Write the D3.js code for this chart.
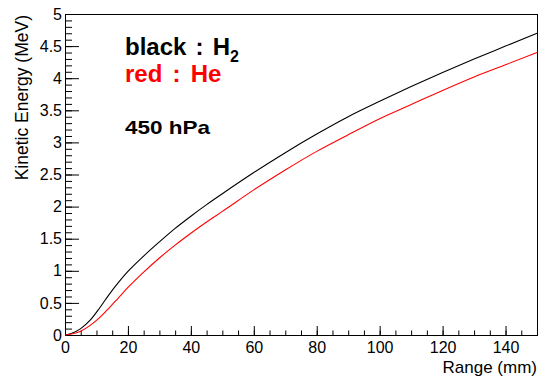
<!DOCTYPE html>
<html lang="en">
<head>
<meta charset="utf-8">
<title>Kinetic energy vs range</title>
<script src="https://d3js.org/d3.v7.min.js"></script>
<style>
  body { margin: 0; background: #fff; }
  svg { display: block; font-family: "Liberation Sans", Arial, Helvetica, sans-serif; }
</style>
</head>
<body>
<div id="container"></div>
<script>
// range (mm) and kinetic energy (MeV)
var rangeMm  = [0, 2, 5, 8, 11, 14, 17, 20, 25, 30, 35, 40, 45, 50, 60, 70, 80, 90, 100, 110, 120, 130, 140, 150];
var energyH2 = [0, 0.025, 0.10, 0.23, 0.42, 0.63, 0.82, 0.99, 1.23, 1.45, 1.66, 1.85, 2.03, 2.20, 2.53, 2.84, 3.13, 3.40, 3.64, 3.87, 4.09, 4.30, 4.50, 4.70];
var energyHe = [0, 0.015, 0.06, 0.15, 0.27, 0.42, 0.58, 0.74, 0.98, 1.20, 1.40, 1.585, 1.76, 1.925, 2.26, 2.57, 2.86, 3.12, 3.37, 3.59, 3.81, 4.02, 4.21, 4.40];
var xTicks = [0, 20, 40, 60, 80, 100, 120, 140];
var yTicks = [0, 0.5, 1, 1.5, 2, 2.5, 3, 3.5, 4, 4.5, 5];

var w = 542, h = 381;
var frameL = 65, frameR = 537, frameT = 14, frameB = 335;

var svg = d3.select("#container").append("svg")
    .attr("width", w).attr("height", h);

var x = d3.scaleLinear().domain([0, 150]).range([frameL, frameR]);
var y = d3.scaleLinear().domain([0, 5]).range([frameB, frameT]);

// frame
svg.append("rect")
    .attr("x", frameL + 0.5).attr("y", frameT + 0.5)
    .attr("width", frameR - frameL).attr("height", frameB - frameT)
    .attr("fill", "none").attr("stroke", "#000").attr("stroke-width", 1);

// minor ticks
svg.append("g")
    .attr("transform", "translate(0," + frameB + ")")
    .call(d3.axisBottom(x).tickValues(d3.range(0, 151, 5)).tickSize(-4.5).tickSizeOuter(0).tickFormat(""))
    .call(g => g.select(".domain").remove());
svg.append("g")
    .attr("transform", "translate(" + frameL + ",0)")
    .call(d3.axisLeft(y).tickValues(d3.range(0, 51).map(d => d / 10)).tickSize(-7).tickSizeOuter(0).tickFormat(""))
    .call(g => g.select(".domain").remove());

// major ticks + labels
var xAxis = svg.append("g")
    .attr("transform", "translate(0," + frameB + ")")
    .call(d3.axisBottom(x).tickValues(xTicks).tickSize(-9).tickSizeOuter(0).tickPadding(7).tickFormat(d3.format("d")));
var yAxis = svg.append("g")
    .attr("transform", "translate(" + frameL + ",0)")
    .call(d3.axisLeft(y).tickValues(yTicks).tickSize(-14).tickSizeOuter(0).tickPadding(3).tickFormat(d => String(d)));

[xAxis, yAxis].forEach(function(g) {
  g.select(".domain").remove();
  g.attr("font-family", null).attr("font-size", null);
  g.selectAll("text").style("font-size", "16px").attr("fill", "#000");
});
svg.selectAll(".tick line").attr("stroke", "#000");

// axis titles
svg.append("text")
    .attr("x", frameR).attr("y", 373)
    .attr("text-anchor", "end")
    .style("font-size", "17px")
    .text("Range (mm)");
svg.append("text")
    .attr("transform", "translate(28," + (frameT + 1) + ") rotate(-90)")
    .attr("text-anchor", "end")
    .style("font-size", "17.5px")
    .text("Kinetic Energy (MeV)");

// curves
var line = d3.line().curve(d3.curveMonotoneX);
svg.append("path")
    .attr("d", line(rangeMm.map((d, i) => [x(d), y(energyH2[i])])))
    .attr("fill", "none").attr("stroke", "#000").attr("stroke-width", 1.1);
svg.append("path")
    .attr("d", line(rangeMm.map((d, i) => [x(d), y(energyHe[i])])))
    .attr("fill", "none").attr("stroke", "#ff0000").attr("stroke-width", 1.1);

// labels
var t1 = svg.append("text")
    .attr("x", 125).attr("y", 55)
    .style("font-size", "24px").style("font-weight", "bold").style("word-spacing", "2.5px");
t1.append("tspan").text("black : H");
t1.append("tspan").attr("dy", 7).style("font-size", "16px").text("2");

svg.append("text")
    .attr("x", 125).attr("y", 82)
    .attr("fill", "#ff0000")
    .style("font-size", "24px").style("font-weight", "bold").style("word-spacing", "3.5px")
    .text("red : He");

svg.append("text")
    .attr("x", 125).attr("y", 134)
    .attr("textLength", 85).attr("lengthAdjust", "spacingAndGlyphs")
    .style("font-size", "19px").style("font-weight", "bold")
    .text("450 hPa");
</script>
</body>
</html>
